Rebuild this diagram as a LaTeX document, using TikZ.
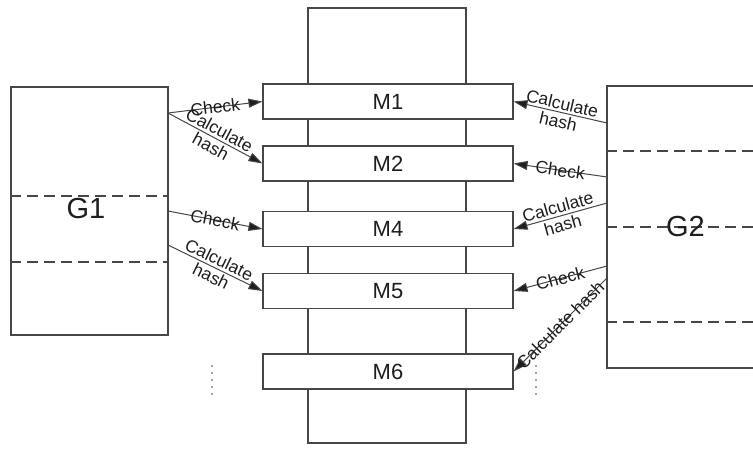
\documentclass[tikz,border=0pt]{standalone}
\usepackage{fontspec}
\setmainfont{Liberation Sans}
\usetikzlibrary{arrows.meta,calc}
\definecolor{linegray}{HTML}{474747}
\definecolor{inkgray}{HTML}{1E1E1E}
\begin{document}
\begin{tikzpicture}[x=1pt,y=-1pt,
  box/.style={draw=linegray, line width=1.1pt, fill=white, inner sep=0pt, text=inkgray},
  mbox/.style={box, minimum width=250pt, minimum height=35pt, font=\fontsize{22}{26}\selectfont},
  gbox/.style={box, fill=none, minimum width=157pt, font=\fontsize{29}{33}\selectfont},
  divider/.style={draw=linegray, line width=1.1pt, dash pattern=on 11pt off 6pt},
  link/.style={draw=linegray, line width=1pt,
    -{Triangle[length=14pt,width=9pt,fill=inkgray]}},
  tag/.style={sloped, inner sep=0pt, align=center, text=inkgray,
    font=\fontsize{17.5}{18.5}\selectfont},
  dotcol/.style={draw=linegray, line width=1.8pt, line cap=round, dash pattern=on 0pt off 7pt}
]
\clip (0,0) rectangle (753,448);
\fill[white] (0,0) rectangle (753,448);

% central storage column
\node[box, minimum width=158pt, minimum height=435pt] (col) at (387,225.5) {};

% memory blocks
\node[mbox] (M1) at (388,101.5) {M1};
\node[mbox] (M2) at (388,163.5) {M2};
\node[mbox] (M4) at (388,229) {M4};
\node[mbox] (M5) at (388,291) {M5};
\node[mbox] (M6) at (388,371.5) {M6};

% the two groups
\node[gbox, minimum height=248pt] (G1) at (89.5,211) {};
\node[gbox, minimum height=282pt] (G2) at (685.5,227) {};
\draw[divider] (G1.west |- 0,196) -- (G1.east |- 0,196);
\draw[divider] (G1.west |- 0,262) -- (G1.east |- 0,262);
\draw[divider] (G2.west |- 0,151) -- (G2.east |- 0,151);
\draw[divider] (G2.west |- 0,227) -- (G2.east |- 0,227);
\draw[divider] (G2.west |- 0,322) -- (G2.east |- 0,322);
\node[text=inkgray, font=\fontsize{29}{33}\selectfont, inner sep=0pt] (G1label) at (86,209) {G1};
\node[text=inkgray, font=\fontsize{29}{33}\selectfont, inner sep=0pt] (G2label) at (G2.center) {G2};

% connection points on the group borders
\coordinate (a1) at (168,113);
\coordinate (a2) at (168,211);
\coordinate (a3) at (168,245);
\coordinate (b1) at (607,123);
\coordinate (b2) at (607,177);
\coordinate (b3) at (607,203);
\coordinate (b4) at (607,266);
\coordinate (b5) at (607,278);

% G1 -> blocks
\draw[link] (a1) -- node[tag] {Check} (M1.west);
\draw[link] (a1) -- node[tag] {Calculate\\hash} (M2.west);
\draw[link] (a2) -- node[tag] {Check} (M4.west);
\draw[link] (a3) -- node[tag] {Calculate\\hash} (M5.west);

% G2 -> blocks
\draw[link] (b1) -- node[tag] {Calculate\\hash} (M1.east);
\draw[link] (b2) -- node[tag] {Check} (M2.east);
\draw[link] (b3) -- node[tag] {Calculate\\hash} (M4.east);
\draw[link] (b4) -- node[tag] {Check} (M5.east);
\draw[link] (b5) -- node[tag] {Calculate hash} (M6.east);

% continuation marks
\draw[dotcol] (212,366) -- (212,401);
\draw[dotcol] (536,366) -- (536,401);
\end{tikzpicture}
\end{document}
